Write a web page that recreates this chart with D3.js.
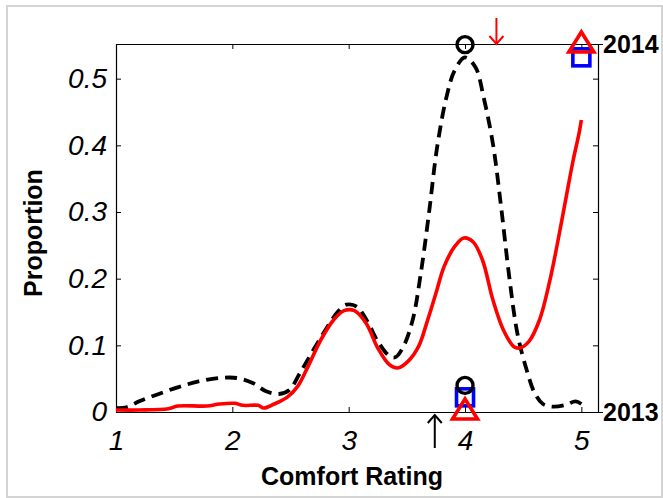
<!DOCTYPE html>
<html>
<head>
<meta charset="utf-8">
<script src="https://cdn.jsdelivr.net/npm/d3@7"></script>
<style>
  body { margin: 0; background: #fff; }
  text { font-family: "Liberation Sans", Arial, sans-serif; }
</style>
</head>
<body>
<div id="chart"></div>
<script>
// 2013 density (black dashed), [rating, proportion]
const curve2013 = [
  [1.00, 0.006], [1.09, 0.007], [1.20, 0.016], [1.35, 0.026], [1.53, 0.037],
  [1.71, 0.046], [1.89, 0.051], [2.04, 0.051], [2.18, 0.043], [2.29, 0.031],
  [2.40, 0.027], [2.49, 0.033], [2.58, 0.058], [2.69, 0.091], [2.80, 0.123],
  [2.91, 0.151], [2.98, 0.161], [3.07, 0.158], [3.16, 0.136], [3.25, 0.106],
  [3.35, 0.084], [3.40, 0.082], [3.47, 0.098], [3.55, 0.138], [3.62, 0.208],
  [3.69, 0.298], [3.76, 0.397], [3.84, 0.472], [3.91, 0.512], [4.00, 0.532],
  [4.09, 0.517], [4.16, 0.472], [4.24, 0.402], [4.31, 0.308], [4.38, 0.203],
  [4.45, 0.118], [4.53, 0.063], [4.60, 0.028], [4.67, 0.012], [4.76, 0.008],
  [4.87, 0.011], [4.95, 0.016], [5.00, 0.012]
];

// 2014 density (red solid)
const curve2014 = [
  [1.00, 0.003], [1.20, 0.003], [1.45, 0.005], [1.53, 0.009], [1.78, 0.009],
  [1.89, 0.012], [2.02, 0.013], [2.09, 0.010], [2.22, 0.010], [2.27, 0.006],
  [2.36, 0.012], [2.47, 0.022], [2.56, 0.038], [2.65, 0.068], [2.76, 0.108],
  [2.87, 0.138], [2.96, 0.152], [3.05, 0.152], [3.15, 0.133], [3.25, 0.096],
  [3.35, 0.071], [3.42, 0.066], [3.51, 0.076], [3.60, 0.098], [3.67, 0.133],
  [3.75, 0.178], [3.82, 0.218], [3.91, 0.248], [3.99, 0.261], [4.07, 0.255],
  [4.15, 0.228], [4.24, 0.168], [4.33, 0.123], [4.42, 0.098], [4.47, 0.096],
  [4.55, 0.106], [4.64, 0.138], [4.73, 0.198], [4.80, 0.258], [4.87, 0.323],
  [4.93, 0.378], [4.98, 0.418], [5.00, 0.438]
];

// summary markers [rating, proportion]
const squareMarks = [[5, 0.532], [4, 0.022]];
const triangleMarks = [[5, 0.552], [4, 0.0015]];
const circleMarks = [[4, 0.551], [4, 0.040]];
const arrowMarks = [
  { x: 4.27, dir: "down", color: "#ff0000" },
  { x: 3.74, dir: "up", color: "#000000" }
];

const xTicks = [1, 2, 3, 4, 5];
const yTicks = [0, 0.1, 0.2, 0.3, 0.4, 0.5];
const yearTicks = [2013, 2014];

const width = 663, height = 498;
const plotLeft = 116, plotRight = 598, plotTop = 44, plotBottom = 412;

const x = d3.scaleLinear().domain([1, 5.143]).range([plotLeft, plotRight]);
const y = d3.scaleLinear().domain([0, 0.552]).range([plotBottom, plotTop]);
const year = d3.scaleLinear().domain([2013, 2014]).range([plotBottom, plotTop]);

const svg = d3.select("#chart").append("svg")
  .attr("width", width)
  .attr("height", height)
  .style("display", "block");

svg.append("rect")
  .attr("width", width).attr("height", height)
  .attr("fill", "#fff");

// outer light grey frame
svg.append("rect")
  .attr("x", 7).attr("y", 6)
  .attr("width", 655).attr("height", 491)
  .attr("fill", "none")
  .attr("stroke", "#d4d4d4")
  .attr("stroke-width", 2);

// axes, ticks point inward
const tickFont = g => g.selectAll("text")
  .attr("font-size", 28)
  .attr("font-style", "italic")
  .attr("fill", "#000");

svg.append("g")
  .attr("transform", `translate(${plotLeft},0)`)
  .call(d3.axisLeft(y).tickValues(yTicks).tickFormat(d3.format("~g"))
    .tickSizeInner(-5).tickSizeOuter(0).tickPadding(9))
  .call(tickFont)
  .call(g => g.select(".domain").attr("stroke-width", 1.2));

svg.append("g")
  .attr("transform", `translate(0,${plotBottom})`)
  .call(d3.axisBottom(x).tickValues(xTicks).tickFormat(d3.format("d"))
    .tickSizeInner(-5).tickSizeOuter(0).tickPadding(18))
  .call(tickFont)
  .call(g => g.select(".domain").attr("stroke-width", 1.2));

svg.append("g")
  .attr("transform", `translate(0,${plotTop})`)
  .call(d3.axisTop(x).tickValues(xTicks).tickFormat("")
    .tickSizeInner(-5).tickSizeOuter(0))
  .call(g => g.select(".domain").attr("stroke-width", 1.2));

svg.append("g")
  .attr("transform", `translate(${plotRight},0)`)
  .call(d3.axisRight(y).tickValues(yTicks.slice(1)).tickFormat("")
    .tickSizeInner(-5).tickSizeOuter(0))
  .call(g => g.select(".domain").attr("stroke-width", 1.2));

// year labels on the right
svg.append("g")
  .attr("transform", `translate(${plotRight},0)`)
  .call(d3.axisRight(year).tickValues(yearTicks).tickFormat(d3.format("d"))
    .tickSizeInner(5).tickSizeOuter(0).tickPadding(0))
  .call(g => g.select(".domain").remove())
  .call(g => g.selectAll("text")
    .attr("font-size", 25)
    .attr("font-weight", "bold")
    .attr("fill", "#000"));

// axis titles
svg.append("text")
  .attr("x", 352).attr("y", 485)
  .attr("text-anchor", "middle")
  .attr("font-size", 25)
  .attr("font-weight", "bold")
  .text("Comfort Rating");

svg.append("text")
  .attr("transform", "translate(42,233) rotate(-90)")
  .attr("text-anchor", "middle")
  .attr("font-size", 25)
  .attr("font-weight", "bold")
  .text("Proportion");

// density curves
const line = d3.line()
  .x(d => x(d[0]))
  .y(d => y(d[1]))
  .curve(d3.curveCatmullRom);

svg.append("path")
  .datum(curve2013)
  .attr("d", line)
  .attr("fill", "none")
  .attr("stroke", "#000")
  .attr("stroke-width", 3.8)
  .attr("stroke-dasharray", "12,7");

svg.append("path")
  .datum(curve2014)
  .attr("d", line)
  .attr("fill", "none")
  .attr("stroke", "#ff0000")
  .attr("stroke-width", 3.6);

// markers
svg.append("g")
  .selectAll("rect")
  .data(squareMarks)
  .join("rect")
  .attr("x", d => x(d[0]) - 8.5)
  .attr("y", d => y(d[1]) - 8.5)
  .attr("width", 17).attr("height", 17)
  .attr("fill", "none")
  .attr("stroke", "#0000ff")
  .attr("stroke-width", 3.6);

svg.append("g")
  .selectAll("path")
  .data(triangleMarks)
  .join("path")
  .attr("d", d => {
    const cx = x(d[0]), cy = y(d[1]);
    return `M${cx},${cy - 12}L${cx + 12.5},${cy + 8}L${cx - 12.5},${cy + 8}Z`;
  })
  .attr("fill", "none")
  .attr("stroke", "#ff0000")
  .attr("stroke-width", 3.6);

svg.append("g")
  .selectAll("circle")
  .data(circleMarks)
  .join("circle")
  .attr("cx", d => x(d[0]))
  .attr("cy", d => y(d[1]))
  .attr("r", 8)
  .attr("fill", "none")
  .attr("stroke", "#000")
  .attr("stroke-width", 3.4);

// arrows outside the frame
const arrows = svg.append("g")
  .selectAll("g")
  .data(arrowMarks)
  .join("g")
  .attr("stroke", d => d.color)
  .attr("stroke-width", 2)
  .attr("fill", "none");

arrows.append("line")
  .attr("x1", d => x(d.x)).attr("x2", d => x(d.x))
  .attr("y1", d => d.dir === "down" ? plotTop - 26 : plotBottom + 36)
  .attr("y2", d => d.dir === "down" ? plotTop : plotBottom + 3);

arrows.append("path")
  .attr("d", d => {
    const cx = x(d.x);
    if (d.dir === "down") {
      const ty = plotTop;
      return `M${cx - 7},${ty - 8}L${cx},${ty}L${cx + 7},${ty - 8}`;
    }
    const ty = plotBottom + 3;
    return `M${cx - 7},${ty + 8}L${cx},${ty}L${cx + 7},${ty + 8}`;
  });
</script>
</body>
</html>
